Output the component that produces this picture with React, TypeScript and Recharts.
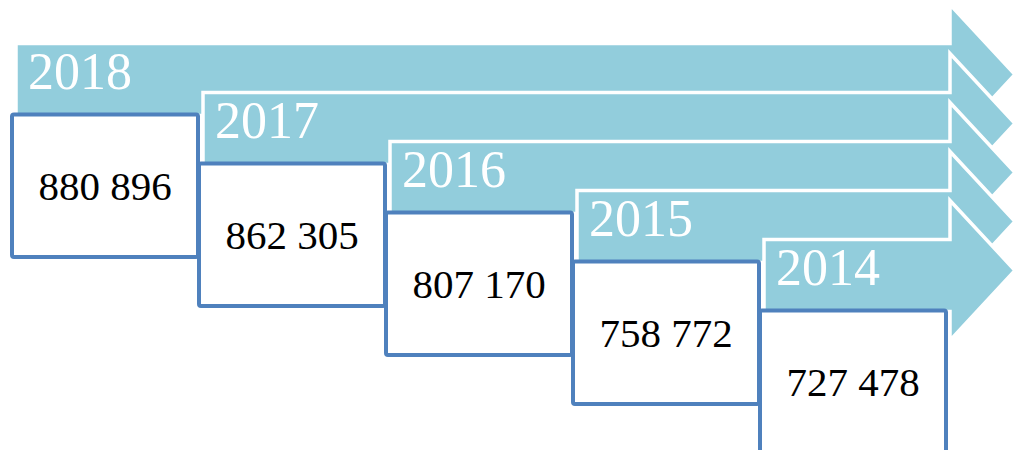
import { ScatterChart, Scatter, XAxis, YAxis } from "recharts";

const years = ["2018", "2017", "2016", "2015", "2014"];
const values = [880896, 862305, 807170, 758772, 727478];
const steps = [0, 1, 2, 3, 4];

const data = steps.map((s, i) => ({ x: s, y: s, year: years[i], value: values[i] }));

const ARROW_FILL = "#92CDDC";
const BOX_STROKE = "#4F81BD";
const FONT = "'Times New Roman', 'Liberation Serif', serif";

const HEAD_X = 950;
const TIP_X = 1015;
const BOX_W = 186;
const BOX_H = 142.5;

const fmt = (v: number) => String(v).replace(/\B(?=(\d{3})+(?!\d))/g, " ");

const StepShape = (props: any) => {
  const { cx, cy, payload } = props;
  const X = cx;
  const Y = cy;
  const L = X + 4;
  const T = Y - 71;
  const arrow = [
    `M${L},${T}`,
    `H${HEAD_X}`,
    `V${Y - 110}`,
    `L${TIP_X},${Y - 40}`,
    `L${HEAD_X},${Y + 30}`,
    `V${Y + 1}`,
    `H${L}`,
    "Z",
  ].join(" ");
  return (
    <g>
      <path d={arrow} fill={ARROW_FILL} stroke="#ffffff" strokeWidth={3.5} strokeLinejoin="miter" />
      <text x={X + 16} y={Y - 26} fill="#ffffff" fontSize={52} fontFamily={FONT}>
        {payload.year}
      </text>
      <rect
        x={X}
        y={Y}
        width={BOX_W}
        height={BOX_H}
        rx={2}
        fill="#ffffff"
        stroke={BOX_STROKE}
        strokeWidth={4}
      />
      <text
        x={X + BOX_W / 2}
        y={Y + 85}
        fill="#000000"
        fontSize={41}
        fontFamily={FONT}
        textAnchor="middle"
      >
        {fmt(payload.value)}
      </text>
    </g>
  );
};

export default function App() {
  return (
    <div style={{ position: "absolute", top: 0, left: 0, width: 1013, height: 450, background: "#fff" }}>
      <ScatterChart
        width={1013}
        height={450}
        margin={{ top: 114.5, left: 12, right: 1013 - 12 - 4 * 187, bottom: 450 - 114.5 - 4 * 49 }}
      >
        <XAxis type="number" dataKey="x" domain={[0, 4]} hide />
        <YAxis type="number" dataKey="y" domain={[0, 4]} reversed hide />
        <Scatter data={data} shape={StepShape} isAnimationActive={false} />
      </ScatterChart>
    </div>
  );
}
